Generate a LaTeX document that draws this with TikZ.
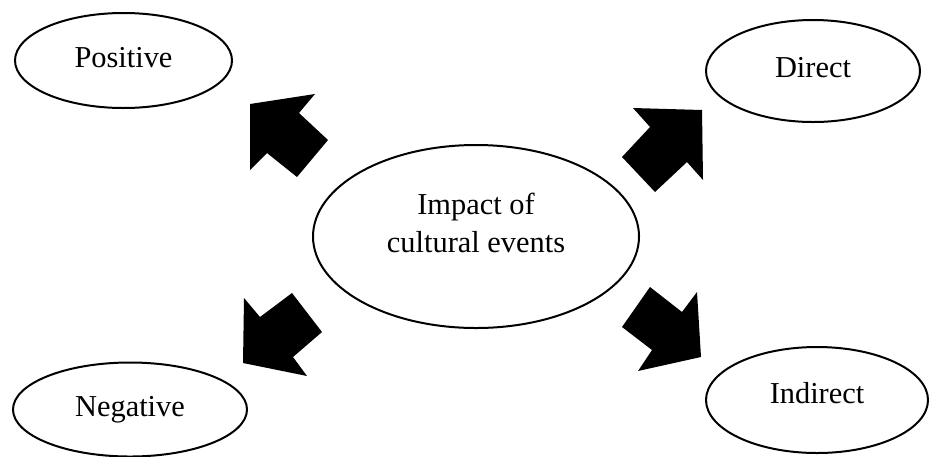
\documentclass[tikz,border=0pt]{standalone}
\usepackage{fontspec}
\setmainfont{Liberation Serif}
\usetikzlibrary{shapes.geometric}
\begin{document}
\begin{tikzpicture}[
        x=0.5pt, y=-0.5pt,
        bubble/.style={ellipse, draw=black, line width=1pt, inner sep=0pt,
            font=\fontsize{15.2}{19}\selectfont, align=center},
        fatarrow/.style={fill=black}
    ]

    \useasboundingbox (0,0) rectangle (929,456);

    \node[bubble, minimum width=217pt*0.5, minimum height=95pt*0.5, text depth=3pt] (pos) at (123.5,60.5) {Positive};
    \node[bubble, minimum width=214pt*0.5, minimum height=102pt*0.5, text depth=4pt] (dir) at (813,71) {Direct};
    \node[bubble, minimum width=326pt*0.5, minimum height=183pt*0.5, text depth=14pt] (impact) at (476,236.5) {Impact of\\cultural events};
    \node[bubble, minimum width=234pt*0.5, minimum height=94pt*0.5] (neg) at (130,409.5) {Negative};
    \node[bubble, minimum width=222pt*0.5, minimum height=106pt*0.5, text depth=7pt] (ind) at (817,400) {Indirect};

    \fill[fatarrow] (250,104) -- (315,94) -- (299,113) -- (328,140) -- (297,177) -- (267,153) -- (250,170) -- cycle;
    \fill[fatarrow] (702,110) -- (703,180) -- (687,162) -- (655,192) -- (622,157) -- (650,127) -- (633,108) -- cycle;
    \fill[fatarrow] (243,363) -- (244,298) -- (260,317) -- (292,293) -- (322,332) -- (293,357) -- (307,376) -- cycle;
    \fill[fatarrow] (701,357) -- (638,371) -- (652,350) -- (622,327) -- (650,287) -- (682,312) -- (697,292) -- cycle;
\end{tikzpicture}
\end{document}
